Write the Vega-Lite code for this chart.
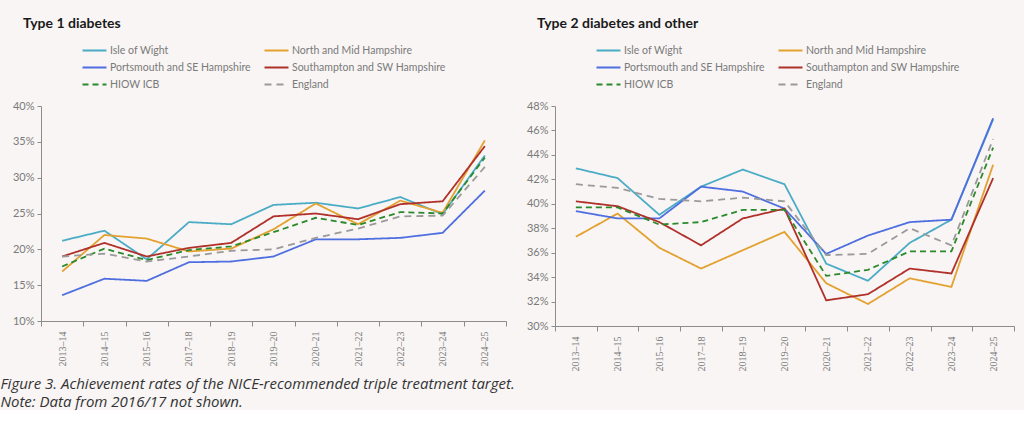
{
  "$schema": "https://vega.github.io/schema/vega-lite/v6.json",
  "background": "#f8f5f4",
  "padding": {"left": 0, "top": 17, "right": 12, "bottom": 0},
  "spacing": 19,
  "title": {
    "text": ["Figure 3. Achievement rates of the NICE-recommended triple treatment target.", "Note: Data from 2016/17 not shown."],
    "orient": "bottom", "anchor": "start", "frame": "bounds",
    "font": "Open Sans", "fontStyle": "italic", "fontWeight": "normal", "fontSize": 15, "color": "#333333",
    "lineHeight": 18, "offset": 6, "dx": -12
  },
  "datasets": {
    "t1": [
      {"year":"2013–14","series":"Isle of Wight","value":21.2},{"year":"2014–15","series":"Isle of Wight","value":22.6},{"year":"2015–16","series":"Isle of Wight","value":18.6},{"year":"2017–18","series":"Isle of Wight","value":23.8},{"year":"2018–19","series":"Isle of Wight","value":23.5},{"year":"2019–20","series":"Isle of Wight","value":26.2},{"year":"2020–21","series":"Isle of Wight","value":26.5},{"year":"2021–22","series":"Isle of Wight","value":25.7},{"year":"2022–23","series":"Isle of Wight","value":27.3},{"year":"2023–24","series":"Isle of Wight","value":24.9},{"year":"2024–25","series":"Isle of Wight","value":33.1},
      {"year":"2013–14","series":"North and Mid Hampshire","value":16.9},{"year":"2014–15","series":"North and Mid Hampshire","value":22.0},{"year":"2015–16","series":"North and Mid Hampshire","value":21.5},{"year":"2017–18","series":"North and Mid Hampshire","value":19.7},{"year":"2018–19","series":"North and Mid Hampshire","value":20.1},{"year":"2019–20","series":"North and Mid Hampshire","value":22.8},{"year":"2020–21","series":"North and Mid Hampshire","value":26.4},{"year":"2021–22","series":"North and Mid Hampshire","value":23.5},{"year":"2022–23","series":"North and Mid Hampshire","value":26.8},{"year":"2023–24","series":"North and Mid Hampshire","value":25.1},{"year":"2024–25","series":"North and Mid Hampshire","value":35.2},
      {"year":"2013–14","series":"Portsmouth and SE Hampshire","value":13.6},{"year":"2014–15","series":"Portsmouth and SE Hampshire","value":15.9},{"year":"2015–16","series":"Portsmouth and SE Hampshire","value":15.6},{"year":"2017–18","series":"Portsmouth and SE Hampshire","value":18.2},{"year":"2018–19","series":"Portsmouth and SE Hampshire","value":18.3},{"year":"2019–20","series":"Portsmouth and SE Hampshire","value":19.0},{"year":"2020–21","series":"Portsmouth and SE Hampshire","value":21.4},{"year":"2021–22","series":"Portsmouth and SE Hampshire","value":21.4},{"year":"2022–23","series":"Portsmouth and SE Hampshire","value":21.6},{"year":"2023–24","series":"Portsmouth and SE Hampshire","value":22.3},{"year":"2024–25","series":"Portsmouth and SE Hampshire","value":28.2},
      {"year":"2013–14","series":"Southampton and SW Hampshire","value":19.0},{"year":"2014–15","series":"Southampton and SW Hampshire","value":20.9},{"year":"2015–16","series":"Southampton and SW Hampshire","value":19.0},{"year":"2017–18","series":"Southampton and SW Hampshire","value":20.2},{"year":"2018–19","series":"Southampton and SW Hampshire","value":20.9},{"year":"2019–20","series":"Southampton and SW Hampshire","value":24.6},{"year":"2020–21","series":"Southampton and SW Hampshire","value":25.0},{"year":"2021–22","series":"Southampton and SW Hampshire","value":24.2},{"year":"2022–23","series":"Southampton and SW Hampshire","value":26.3},{"year":"2023–24","series":"Southampton and SW Hampshire","value":26.7},{"year":"2024–25","series":"Southampton and SW Hampshire","value":34.4},
      {"year":"2013–14","series":"HIOW ICB","value":17.6},{"year":"2014–15","series":"HIOW ICB","value":20.1},{"year":"2015–16","series":"HIOW ICB","value":18.5},{"year":"2017–18","series":"HIOW ICB","value":19.9},{"year":"2018–19","series":"HIOW ICB","value":20.4},{"year":"2019–20","series":"HIOW ICB","value":22.4},{"year":"2020–21","series":"HIOW ICB","value":24.4},{"year":"2021–22","series":"HIOW ICB","value":23.4},{"year":"2022–23","series":"HIOW ICB","value":25.2},{"year":"2023–24","series":"HIOW ICB","value":25.0},{"year":"2024–25","series":"HIOW ICB","value":32.8},
      {"year":"2013–14","series":"England","value":19.0},{"year":"2014–15","series":"England","value":19.4},{"year":"2015–16","series":"England","value":18.3},{"year":"2017–18","series":"England","value":19.0},{"year":"2018–19","series":"England","value":19.8},{"year":"2019–20","series":"England","value":20.0},{"year":"2020–21","series":"England","value":21.6},{"year":"2021–22","series":"England","value":22.9},{"year":"2022–23","series":"England","value":24.6},{"year":"2023–24","series":"England","value":24.7},{"year":"2024–25","series":"England","value":31.5}
    ],
    "t2": [
      {"year":"2013–14","series":"Isle of Wight","value":42.9},{"year":"2014–15","series":"Isle of Wight","value":42.1},{"year":"2015–16","series":"Isle of Wight","value":39.1},{"year":"2017–18","series":"Isle of Wight","value":41.4},{"year":"2018–19","series":"Isle of Wight","value":42.8},{"year":"2019–20","series":"Isle of Wight","value":41.6},{"year":"2020–21","series":"Isle of Wight","value":35.1},{"year":"2021–22","series":"Isle of Wight","value":33.7},{"year":"2022–23","series":"Isle of Wight","value":36.8},{"year":"2023–24","series":"Isle of Wight","value":38.7},{"year":"2024–25","series":"Isle of Wight","value":46.9},
      {"year":"2013–14","series":"North and Mid Hampshire","value":37.3},{"year":"2014–15","series":"North and Mid Hampshire","value":39.2},{"year":"2015–16","series":"North and Mid Hampshire","value":36.4},{"year":"2017–18","series":"North and Mid Hampshire","value":34.7},{"year":"2018–19","series":"North and Mid Hampshire","value":36.2},{"year":"2019–20","series":"North and Mid Hampshire","value":37.7},{"year":"2020–21","series":"North and Mid Hampshire","value":33.5},{"year":"2021–22","series":"North and Mid Hampshire","value":31.8},{"year":"2022–23","series":"North and Mid Hampshire","value":33.9},{"year":"2023–24","series":"North and Mid Hampshire","value":33.2},{"year":"2024–25","series":"North and Mid Hampshire","value":43.2},
      {"year":"2013–14","series":"Portsmouth and SE Hampshire","value":39.4},{"year":"2014–15","series":"Portsmouth and SE Hampshire","value":38.8},{"year":"2015–16","series":"Portsmouth and SE Hampshire","value":38.8},{"year":"2017–18","series":"Portsmouth and SE Hampshire","value":41.4},{"year":"2018–19","series":"Portsmouth and SE Hampshire","value":41.0},{"year":"2019–20","series":"Portsmouth and SE Hampshire","value":39.6},{"year":"2020–21","series":"Portsmouth and SE Hampshire","value":35.9},{"year":"2021–22","series":"Portsmouth and SE Hampshire","value":37.4},{"year":"2022–23","series":"Portsmouth and SE Hampshire","value":38.5},{"year":"2023–24","series":"Portsmouth and SE Hampshire","value":38.7},{"year":"2024–25","series":"Portsmouth and SE Hampshire","value":47.0},
      {"year":"2013–14","series":"Southampton and SW Hampshire","value":40.2},{"year":"2014–15","series":"Southampton and SW Hampshire","value":39.8},{"year":"2015–16","series":"Southampton and SW Hampshire","value":38.5},{"year":"2017–18","series":"Southampton and SW Hampshire","value":36.6},{"year":"2018–19","series":"Southampton and SW Hampshire","value":38.8},{"year":"2019–20","series":"Southampton and SW Hampshire","value":39.6},{"year":"2020–21","series":"Southampton and SW Hampshire","value":32.1},{"year":"2021–22","series":"Southampton and SW Hampshire","value":32.6},{"year":"2022–23","series":"Southampton and SW Hampshire","value":34.7},{"year":"2023–24","series":"Southampton and SW Hampshire","value":34.3},{"year":"2024–25","series":"Southampton and SW Hampshire","value":42.1},
      {"year":"2013–14","series":"HIOW ICB","value":39.7},{"year":"2014–15","series":"HIOW ICB","value":39.7},{"year":"2015–16","series":"HIOW ICB","value":38.3},{"year":"2017–18","series":"HIOW ICB","value":38.5},{"year":"2018–19","series":"HIOW ICB","value":39.5},{"year":"2019–20","series":"HIOW ICB","value":39.5},{"year":"2020–21","series":"HIOW ICB","value":34.1},{"year":"2021–22","series":"HIOW ICB","value":34.6},{"year":"2022–23","series":"HIOW ICB","value":36.1},{"year":"2023–24","series":"HIOW ICB","value":36.1},{"year":"2024–25","series":"HIOW ICB","value":44.6},
      {"year":"2013–14","series":"England","value":41.6},{"year":"2014–15","series":"England","value":41.3},{"year":"2015–16","series":"England","value":40.4},{"year":"2017–18","series":"England","value":40.2},{"year":"2018–19","series":"England","value":40.5},{"year":"2019–20","series":"England","value":40.2},{"year":"2020–21","series":"England","value":35.8},{"year":"2021–22","series":"England","value":35.9},{"year":"2022–23","series":"England","value":38.0},{"year":"2023–24","series":"England","value":36.6},{"year":"2024–25","series":"England","value":45.3}
    ]
  },
  "config": {
    "view": {"stroke": null},
    "axis": {"grid": false, "domainColor": "#8c8c8c", "tickColor": "#8c8c8c", "labelColor": "#7a7a7a", "title": null},
    "axisY": {"labelFont": "Lato", "labelFontSize": 11, "labelFontWeight": "normal", "tickSize": 4, "labelPadding": 3},
    "axisX": {"labelFont": "Liberation Serif", "labelFontSize": 10, "labelAngle": -90, "tickSize": 5, "labelPadding": 5, "tickBand": "extent"},
    "legend": {
      "orient": "none", "legendX": 43, "legendY": -66, "columns": 2, "direction": "horizontal", "title": null,
      "symbolType": "M-1.333,0H1.333", "symbolSize": 324, "symbolStrokeWidth": 2.2,
      "labelFont": "Lato", "labelFontSize": 10.5, "labelFontWeight": "normal", "labelColor": "#7a7a7a", "labelLimit": 300,
      "labelOffset": 5, "rowPadding": 1, "columnPadding": 9
    },
    "title": {"anchor": "start", "frame": "group", "font": "Lato", "fontSize": 14, "fontWeight": "bold", "color": "#1a1a1a", "dx": -18, "offset": 9}
  },
  "hconcat": [
    {
      "width": 465, "height": 215,
      "title": {"text": "Type 1 diabetes"},
      "data": {"name": "t1"},
      "mark": {"type": "line", "strokeWidth": 1.8},
      "encoding": {
        "x": {"field": "year", "type": "nominal", "bandPosition": 0.5,
              "scale": {"type": "band", "paddingInner": 0, "paddingOuter": 0, "domain": ["2013–14","2014–15","2015–16","2017–18","2018–19","2019–20","2020–21","2021–22","2022–23","2023–24","2024–25"]}},
        "y": {"field": "value", "type": "quantitative", "scale": {"domain": [10, 40], "nice": false, "zero": false},
              "axis": {"values": [10, 15, 20, 25, 30, 35, 40], "labelExpr": "datum.value + '%'"}},
        "color": {"field": "series", "type": "nominal",
                  "scale": {"domain": ["Isle of Wight","North and Mid Hampshire","Portsmouth and SE Hampshire","Southampton and SW Hampshire","HIOW ICB","England"],
                            "range": ["#4bacc6","#e3a130","#4f6fe0","#b0302a","#2a8a2a","#9a9a9a"]}},
        "strokeDash": {"field": "series", "type": "nominal",
                  "scale": {"domain": ["Isle of Wight","North and Mid Hampshire","Portsmouth and SE Hampshire","Southampton and SW Hampshire","HIOW ICB","England"],
                            "range": [[1,0],[1,0],[1,0],[1,0],[6,4],[7,5]]}}
      }
    },
    {
      "width": 459, "height": 220,
      "title": {"text": "Type 2 diabetes and other"},
      "data": {"name": "t2"},
      "mark": {"type": "line", "strokeWidth": 1.8},
      "encoding": {
        "x": {"field": "year", "type": "nominal", "bandPosition": 0.5,
              "scale": {"type": "band", "paddingInner": 0, "paddingOuter": 0, "domain": ["2013–14","2014–15","2015–16","2017–18","2018–19","2019–20","2020–21","2021–22","2022–23","2023–24","2024–25"]}},
        "y": {"field": "value", "type": "quantitative", "scale": {"domain": [30, 48], "nice": false, "zero": false},
              "axis": {"values": [30, 32, 34, 36, 38, 40, 42, 44, 46, 48], "labelExpr": "datum.value + '%'"}},
        "color": {"field": "series", "type": "nominal",
                  "scale": {"domain": ["Isle of Wight","North and Mid Hampshire","Portsmouth and SE Hampshire","Southampton and SW Hampshire","HIOW ICB","England"],
                            "range": ["#4bacc6","#e3a130","#4f6fe0","#b0302a","#2a8a2a","#9a9a9a"]}},
        "strokeDash": {"field": "series", "type": "nominal",
                  "scale": {"domain": ["Isle of Wight","North and Mid Hampshire","Portsmouth and SE Hampshire","Southampton and SW Hampshire","HIOW ICB","England"],
                            "range": [[1,0],[1,0],[1,0],[1,0],[6,4],[7,5]]}}
      }
    }
  ],
  "resolve": {"scale": {"x": "independent", "y": "independent", "color": "independent", "strokeDash": "independent"}, "legend": {"color": "independent", "strokeDash": "independent"}}
}
